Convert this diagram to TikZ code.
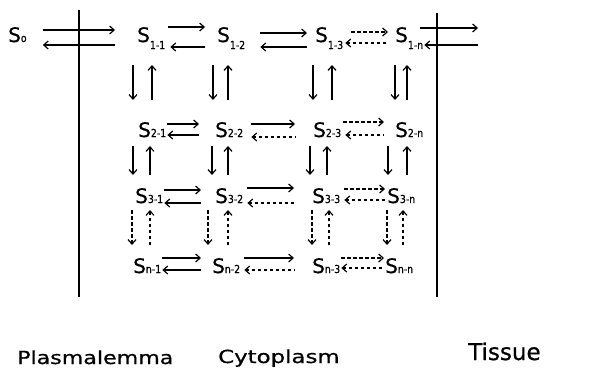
\documentclass[tikz,border=0pt]{standalone}
\usepackage{fontspec}
\setmainfont{DejaVu Sans}[FakeBold=0.5]
\newfontfamily\heavy{DejaVu Sans}[FakeBold=0.7]
\usepackage{graphicx}
\usetikzlibrary{arrows.meta,calc}
\newcommand{\subA}[1]{\raisebox{-7pt}{\fontsize{11}{11}\selectfont\scalebox{0.85}[1]{#1}}}
\newcommand{\subB}[1]{{\fontsize{11}{11}\selectfont\scalebox{0.85}[1]{#1}}}
\begin{document}
\begin{tikzpicture}[x=1pt,y=-1pt,
  st/.style={inner sep=0pt, anchor=base west, font=\heavy\fontsize{20}{20}\selectfont},
  ar/.style={line width=1.2pt, -{Straight Barb[length=4.5pt,width=8pt]}},
  ra/.style={line width=1.2pt, {Straight Barb[length=4.5pt,width=8pt]}-},
  dsh/.style={dash pattern=on 3.5pt off 2.5pt},
  wall/.style={line width=1.8pt},
  lab/.style={inner sep=0pt, anchor=base west, font=\heavy\fontsize{18}{18}\selectfont}]
\useasboundingbox (0,0) rectangle (612,367);
% membranes
\draw[wall] (79,10) -- (79,297);
\draw[wall] (437,13) -- (437,297);
% row 1
\node[st] (S0) at (8,42) {S\subB{o}};
\node[st] (S11) at (137,42) {S\subA{1-1}};
\node[st] (S12) at (217,42) {S\subA{1-2}};
\node[st] (S13) at (315,42) {S\subA{1-3}};
\node[st] (S1n) at (395,42) {S\subA{1-n}};
% row 2
\node[st] (S21) at (138,137) {S\subB{2-1}};
\node[st] (S22) at (215,137) {S\subB{2-2}};
\node[st] (S23) at (313,137) {S\subB{2-3}};
\node[st] (S2n) at (395,137) {S\subB{2-n}};
% row 3
\node[st] (S31) at (135,203) {S\subB{3-1}};
\node[st] (S32) at (215,203) {S\subB{3-2}};
\node[st] (S33) at (312,203) {S\subB{3-3}};
\node[st] (S3n) at (387,203) {S\subB{3-n}};
% row 4
\node[st] (Sn1) at (133,273) {S\subB{n-1}};
\node[st] (Sn2) at (212,273) {S\subB{n-2}};
\node[st] (Sn3) at (312,273) {S\subB{n-3}};
\node[st] (Snn) at (385,273) {S\subB{n-n}};
% free ends
\coordinate (oT) at (478,28);
\coordinate (oB) at (478,45);
% row 1 horizontals
\draw[ar] ([shift={(16,-12)}]S0.base east) -- ([shift={(-22,-12)}]S11.base west);
\draw[ra] ([shift={(16,3)}]S0.base east) -- ([shift={(-22,3)}]S11.base west);
\draw[ar] ([shift={(3,-15)}]S11.base east) -- ([shift={(-12,-15)}]S12.base west);
\draw[ra] ([shift={(5,5)}]S11.base east) -- ([shift={(-12,5)}]S12.base west);
\draw[ar] ([shift={(15,-9)}]S12.base east) -- ([shift={(-8,-9)}]S13.base west);
\draw[ra] ([shift={(15,5)}]S12.base east) -- ([shift={(-8,5)}]S13.base west);
\draw[ar,dsh] ([shift={(8,-10)}]S13.base east) -- ([shift={(-7,-10)}]S1n.base west);
\draw[ra,dsh] ([shift={(2,1)}]S13.base east) -- ([shift={(-7,1)}]S1n.base west);
\draw[ar] ([shift={(-3,-14)}]S1n.base east) -- (oT);
\draw[ra] ([shift={(1,3)}]S1n.base east) -- (oB);
% row 2 horizontals
\draw[ar] ([shift={(1,-13)}]S21.base east) -- ([shift={(-16,-13)}]S22.base west);
\draw[ra] ([shift={(1,-2)}]S21.base east) -- ([shift={(-16,-2)}]S22.base west);
\draw[ar] ([shift={(8,-13)}]S22.base east) -- ([shift={(-18,-13)}]S23.base west);
\draw[ra,dsh] ([shift={(8,0)}]S22.base east) -- ([shift={(-18,0)}]S23.base west);
\draw[ar,dsh] ([shift={(2,-15)}]S23.base east) -- ([shift={(-11,-15)}]S2n.base west);
\draw[ra,dsh] ([shift={(4,-2)}]S23.base east) -- ([shift={(-11,-2)}]S2n.base west);
% row 3 horizontals
\draw[ar] ([shift={(1,-13)}]S31.base east) -- ([shift={(-14,-13)}]S32.base west);
\draw[ra] ([shift={(1,0)}]S31.base east) -- ([shift={(-14,0)}]S32.base west);
\draw[ar] ([shift={(4,-15)}]S32.base east) -- ([shift={(-18,-15)}]S33.base west);
\draw[ra,dsh] ([shift={(4,0)}]S32.base east) -- ([shift={(-18,0)}]S33.base west);
\draw[ar,dsh] ([shift={(4,-14)}]S33.base east) -- ([shift={(-2,-14)}]S3n.base west);
\draw[ra,dsh] ([shift={(4,-3)}]S33.base east) -- ([shift={(-2,-3)}]S3n.base west);
% row 4 horizontals
\draw[ar] ([shift={(1,-15)}]Sn1.base east) -- ([shift={(-11,-15)}]Sn2.base west);
\draw[ra] ([shift={(1,-3)}]Sn1.base east) -- ([shift={(-11,-3)}]Sn2.base west);
\draw[ar] ([shift={(4,-15)}]Sn2.base east) -- ([shift={(-18,-15)}]Sn3.base west);
\draw[ra,dsh] ([shift={(4,-3)}]Sn2.base east) -- ([shift={(-18,-3)}]Sn3.base west);
\draw[ar,dsh] ([shift={(1,-15)}]Sn3.base east) -- ([shift={(-1,-15)}]Snn.base west);
\draw[ra,dsh] ([shift={(1,-5)}]Sn3.base east) -- ([shift={(-1,-5)}]Snn.base west);
% verticals row 1 -> 2
\draw[ar,shorten >=22pt] ([shift={(-4,23)}]S11.base west) -- ([xshift=-4pt]S11.base west |- S21.north);
\draw[ra,shorten >=22pt] ([shift={(15,23)}]S11.base west) -- ([xshift=15pt]S11.base west |- S21.north);
\draw[ar,shorten >=22pt] ([shift={(-4,23)}]S12.base west) -- ([xshift=-4pt]S12.base west |- S22.north);
\draw[ra,shorten >=22pt] ([shift={(11,23)}]S12.base west) -- ([xshift=11pt]S12.base west |- S22.north);
\draw[ar,shorten >=22pt] ([shift={(-2,23)}]S13.base west) -- ([xshift=-2pt]S13.base west |- S23.north);
\draw[ra,shorten >=22pt] ([shift={(17,23)}]S13.base west) -- ([xshift=17pt]S13.base west |- S23.north);
\draw[ar,shorten >=22pt] ([shift={(0,23)}]S1n.base west) -- ([xshift=0pt]S1n.base west |- S2n.north);
\draw[ra,shorten >=22pt] ([shift={(12,23)}]S1n.base west) -- ([xshift=12pt]S1n.base west |- S2n.north);
% verticals row 2 -> 3
\draw[ar,shorten >=13pt] ([shift={(-5,9)}]S21.base west) -- ([xshift=-5pt]S21.base west |- S31.north);
\draw[ra,shorten >=13pt] ([shift={(12,9)}]S21.base west) -- ([xshift=12pt]S21.base west |- S31.north);
\draw[ar,shorten >=13pt] ([shift={(-3,9)}]S22.base west) -- ([xshift=-3pt]S22.base west |- S32.north);
\draw[ra,shorten >=13pt] ([shift={(13,9)}]S22.base west) -- ([xshift=13pt]S22.base west |- S32.north);
\draw[ar,shorten >=13pt] ([shift={(-3,9)}]S23.base west) -- ([xshift=-3pt]S23.base west |- S33.north);
\draw[ra,shorten >=13pt] ([shift={(14,9)}]S23.base west) -- ([xshift=14pt]S23.base west |- S33.north);
\draw[ar,shorten >=13pt] ([shift={(-7,9)}]S2n.base west) -- ([xshift=-7pt]S2n.base west |- S3n.north);
\draw[ra,shorten >=13pt] ([shift={(12,9)}]S2n.base west) -- ([xshift=12pt]S2n.base west |- S3n.north);
% verticals row 3 -> 4 (dashed)
\draw[ar,dsh,shorten >=13pt] ([shift={(-3,7)}]S31.base west) -- ([xshift=-3pt]S31.base west |- Sn1.north);
\draw[ra,dsh,shorten >=13pt] ([shift={(15,7)}]S31.base west) -- ([xshift=15pt]S31.base west |- Sn1.north);
\draw[ar,dsh,shorten >=13pt] ([shift={(-7,7)}]S32.base west) -- ([xshift=-7pt]S32.base west |- Sn2.north);
\draw[ra,dsh,shorten >=13pt] ([shift={(13,7)}]S32.base west) -- ([xshift=13pt]S32.base west |- Sn2.north);
\draw[ar,dsh,shorten >=13pt] ([shift={(0,7)}]S33.base west) -- ([xshift=0pt]S33.base west |- Sn3.north);
\draw[ra,dsh,shorten >=13pt] ([shift={(17,7)}]S33.base west) -- ([xshift=17pt]S33.base west |- Sn3.north);
\draw[ar,dsh,shorten >=13pt] ([shift={(0,7)}]S3n.base west) -- ([xshift=0pt]S3n.base west |- Snn.north);
\draw[ra,dsh,shorten >=13pt] ([shift={(16,7)}]S3n.base west) -- ([xshift=16pt]S3n.base west |- Snn.north);
% bottom labels
\node[lab] (pl) at (17,364) {\scalebox{1.23}[1]{Plasmalemma}};
\node[lab] (cy) at (218,363) {\scalebox{1.27}[1]{Cytoplasm}};
\node[lab, font=\heavy\fontsize{23}{23}\selectfont] (ti) at (468,360) {Tissue};
\end{tikzpicture}
\end{document}
